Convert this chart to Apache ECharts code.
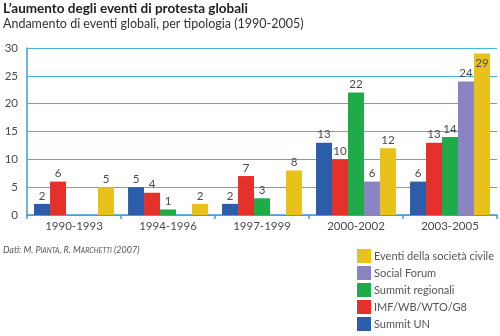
<!DOCTYPE html>
<html><head><meta charset="utf-8">
<script src="https://cdn.jsdelivr.net/npm/echarts@6/dist/echarts.min.js"></script>
<style>html,body{margin:0;padding:0;background:#fff}#c{width:500px;height:336px}</style>
</head><body><div id="c"></div>
<script>
const categories = ['1990-1993','1994-1996','1997-1999','2000-2002','2003-2005'];
const summitUN = [2, 5, 2, 13, 6];
const imfWbWtoG8 = [6, 4, 7, 10, 13];
const summitRegionali = [null, 1, 3, 22, 14];
const socialForum = [null, null, null, 6, 24];
const eventiSocieta = [5, 2, 8, 12, 29];
const yTicks = [0, 5, 10, 15, 20, 25, 30];
const seriesNames = ['Summit UN','IMF/WB/WTO/G8','Summit regionali','Social Forum','Eventi della società civile'];
const colors = ['#2c5dab','#e5302c','#1fab4a','#8a84c2','#e9c11b'];
const seriesData = [summitUN, imfWbWtoG8, summitRegionali, socialForum, eventiSocieta];
const yMax = yTicks[yTicks.length-1];

const chart = echarts.init(document.getElementById('c'), null, {renderer:'canvas'});
const font = 'Lato';
chart.setOption({
  animation:false,
  textStyle:{fontFamily:font},
  title:[
    {text:"L’aumento degli eventi di protesta globali", left:3, top:2, padding:0, textStyle:{fontSize:13.5, fontWeight:'bold', color:'#222', fontFamily:font}},
    {text:"Andamento di eventi globali, per tipologia (1990-2005)", left:3, top:17, padding:0, textStyle:{fontSize:12.5, fontWeight:'normal', color:'#333', fontFamily:font}},
    {text:"{i|Dati: M. P}{s|IANTA}{i|, R. M}{s|ARCHETTI}{i| (2007)}", left:3, top:246, padding:0,
     textStyle:{fontWeight:'normal', rich:{i:{fontSize:9, fontStyle:'italic', fontWeight:'normal', color:'#555', fontFamily:font}, s:{fontSize:7, fontStyle:'italic', fontWeight:'normal', color:'#555', fontFamily:font}}}}
  ],
  grid:{left:27, right:3, top:48, bottom:121, containLabel:false},
  legend:{
    orient:'vertical', left:357, top:249, padding:0, itemWidth:14, itemHeight:14, itemGap:3,
    icon:'rect',
    data:seriesNames.slice().reverse(),
    textStyle:{fontSize:11, color:'#555', fontFamily:font, padding:[0,0,0,-2]}
  },
  xAxis:{
    type:'category', data:categories,
    axisLine:{lineStyle:{color:'#3a9fd9', width:1.5}},
    axisTick:{show:true, length:4, lineStyle:{color:'#3a9fd9', width:1.5}},
    axisLabel:{fontSize:11.5, color:'#4a4a4a', margin:5, fontFamily:font}
  },
  yAxis:{
    type:'value', min:0, max:yMax, interval:5,
    axisLine:{show:true, lineStyle:{color:'#3a9fd9', width:1.5}},
    axisTick:{show:false},
    splitLine:{lineStyle:{color:'#4bb0e3', width:1.2}},
    axisLabel:{fontSize:11.5, color:'#4a4a4a', margin:9, fontFamily:font}
  },
  series: seriesNames.map((n,i)=>({
    name:n, type:'bar', barGap:'0%', barCategoryGap:'15%',
    itemStyle:{color:colors[i]},
    data: seriesData[i].map(v => v === null ? null : ({value:v, label: v >= yMax - 2 ? {position:'insideTop', distance:4} : undefined})),
    label:{show:true, position:'top', distance:2, fontSize:11.5, color:'#4a4a4a', fontFamily:font}
  }))
});
</script></body></html>
